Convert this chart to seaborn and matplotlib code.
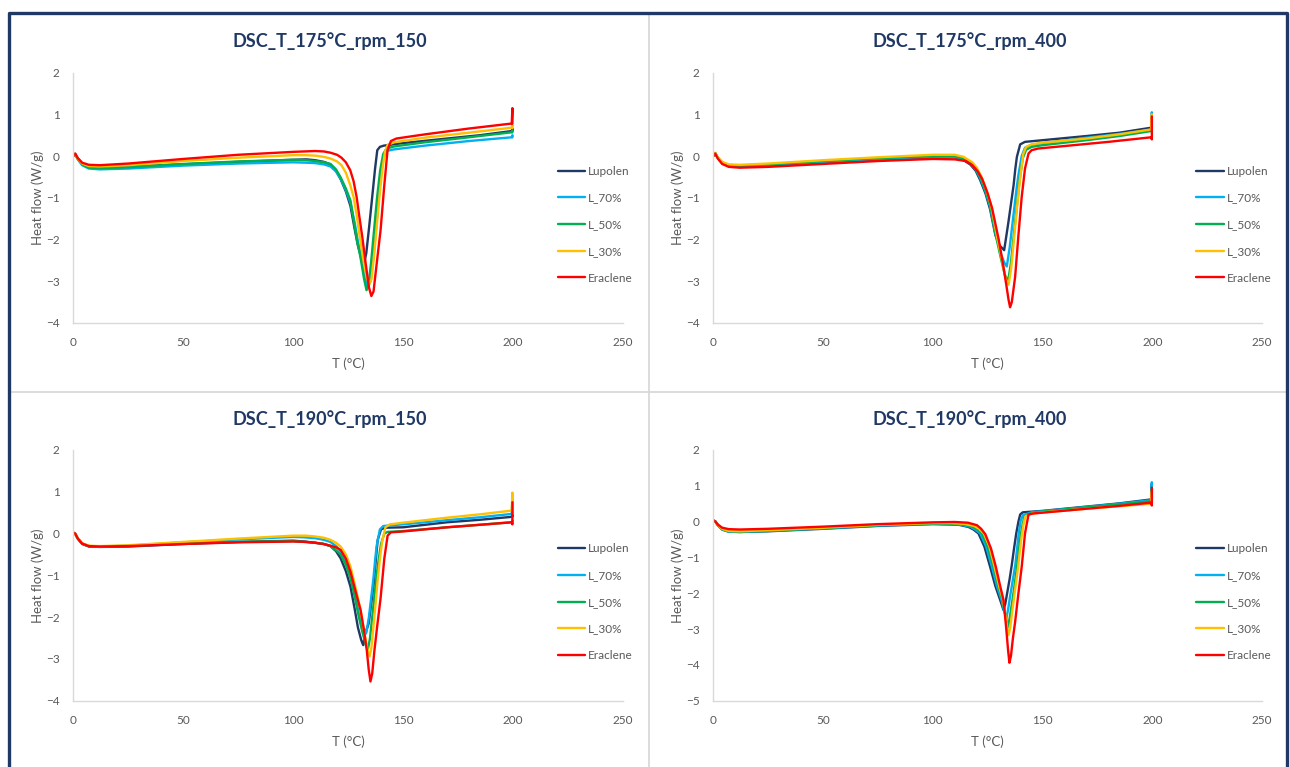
import matplotlib
matplotlib.use("Agg")
import matplotlib.pyplot as plt
import seaborn as sns
import pandas as pd
from matplotlib.lines import Line2D

# ---------------- data ----------------
SERIES = ["Lupolen", "L_70%", "L_50%", "L_30%", "Eraclene"]
COLORS = ["#1F3864", "#00B0F0", "#00B050", "#FFC000", "#FF0000"]
TITLES = ["DSC_T_175°C_rpm_150", "DSC_T_175°C_rpm_400",
          "DSC_T_190°C_rpm_150", "DSC_T_190°C_rpm_400"]
X_TICKS = [0, 50, 100, 150, 200, 250]
Y_TICKS_A = [-4, -3, -2, -1, 0, 1, 2]
Y_TICKS_D = [-5, -4, -3, -2, -1, 0, 1, 2]
X_LABEL = "T (°C)"
Y_LABEL = "Heat flow (W/g)"

# Panel A: DSC_T_175°C_rpm_150
A_LUP_T = [0, 0.8, 2, 4, 7, 12, 25, 50, 75, 100, 106, 110, 114, 117, 119.5, 121.6, 124, 126.1, 128, 129.5, 131, 132.3, 133.3, 134.6, 136, 137.3, 138.3, 139.5, 141.3, 150, 170, 185, 199.5, 199.8, 199.8]
A_LUP_HF = [0.0, 0.05, -0.06, -0.18, -0.26, -0.27, -0.25, -0.2, -0.14, -0.09, -0.08, -0.10, -0.14, -0.20, -0.35, -0.55, -0.85, -1.2, -1.75, -2.15, -2.45, -2.58, -2.33, -1.7, -0.98, -0.3, 0.14, 0.22, 0.25, 0.31, 0.42, 0.5, 0.6, 0.66, 0.6]
A_L70_T = [0, 0.8, 2, 4, 7, 12, 25, 50, 75, 100, 106, 110, 114, 117, 119.5, 121.6, 124, 126.1, 128, 129.5, 131, 132.5, 134, 135.2, 136.5, 137.8, 139.3, 140.8, 142.3, 146, 160, 180, 199.5, 199.8, 199.8]
A_L70_HF = [0.0, 0.04, -0.08, -0.22, -0.3, -0.32, -0.3, -0.23, -0.18, -0.15, -0.16, -0.17, -0.2, -0.25, -0.37, -0.55, -0.82, -1.12, -1.6, -2.05, -2.45, -2.85, -3.15, -3.0, -2.45, -1.7, -0.8, -0.1, 0.12, 0.16, 0.25, 0.36, 0.45, 0.5, 0.45]
A_L50_T = [0, 0.8, 2, 4, 7, 12, 25, 50, 75, 100, 106, 110, 114, 117, 119.5, 121.6, 124, 126.1, 127.6, 129.1, 130.2, 131.1, 132.3, 133.4, 134.3, 135.5, 136.8, 138.2, 139.6, 141, 142.5, 146, 160, 180, 199.5, 199.8, 199.8]
A_L50_HF = [0.0, 0.05, -0.07, -0.2, -0.28, -0.29, -0.27, -0.19, -0.13, -0.09, -0.1, -0.12, -0.15, -0.19, -0.32, -0.51, -0.78, -1.07, -1.55, -2.03, -2.3, -2.57, -2.95, -3.22, -3.1, -2.55, -1.8, -1.0, -0.35, 0.05, 0.18, 0.23, 0.33, 0.45, 0.57, 0.62, 0.57]
A_L30_T = [0, 0.8, 2, 4, 7, 12, 25, 50, 75, 100, 106, 110, 114, 117, 120, 122, 124, 126, 127.6, 129, 130.5, 132.2, 133.5, 134.7, 135.7, 137, 138.3, 139.5, 140.7, 141.8, 143, 146, 160, 180, 199.5, 199.8, 199.8]
A_L30_HF = [0.0, 0.05, -0.06, -0.18, -0.24, -0.25, -0.22, -0.12, -0.04, 0.02, 0.02, 0.01, -0.02, -0.06, -0.13, -0.22, -0.4, -0.7, -1.0, -1.45, -2.0, -2.57, -2.92, -3.08, -2.95, -2.3, -1.55, -0.85, -0.3, 0.1, 0.27, 0.33, 0.44, 0.56, 0.68, 0.75, 0.68]
A_ERA_T = [0, 0.8, 2, 4, 7, 12, 25, 50, 75, 100, 110, 114, 117, 120, 122, 124, 126, 127.5, 128.9, 130, 131.5, 133, 134.5, 135.6, 136.6, 138, 139.8, 141.5, 143, 144.5, 147, 160, 180, 199.5, 199.8, 199.8]
A_ERA_HF = [0.0, 0.06, -0.05, -0.16, -0.21, -0.22, -0.18, -0.07, 0.03, 0.10, 0.12, 0.11, 0.08, 0.03, -0.04, -0.15, -0.34, -0.6, -0.98, -1.4, -1.95, -2.57, -3.15, -3.36, -3.25, -2.6, -1.78, -0.7, 0.15, 0.36, 0.42, 0.52, 0.66, 0.78, 1.15, 0.78]

# Panel B: DSC_T_175°C_rpm_400
B_LUP_T = [0, 0.8, 2, 4, 7, 12, 25, 50, 75, 100, 110, 114, 117, 119.5, 121.6, 124, 126.1, 128.5, 130.5, 132.5, 133.4, 134.4, 135.6, 136.8, 137.6, 138.3, 139.8, 142, 150, 170, 185, 199.5, 199.8, 199.8]
B_LUP_HF = [0.0, 0.07, -0.04, -0.17, -0.24, -0.25, -0.22, -0.15, -0.08, -0.03, -0.03, -0.1, -0.2, -0.35, -0.58, -0.9, -1.28, -1.9, -2.15, -2.26, -1.95, -1.6, -1.15, -0.7, -0.3, -0.02, 0.28, 0.34, 0.38, 0.48, 0.56, 0.68, 0.75, 0.68]
B_L70_T = [0, 0.8, 2, 4, 7, 12, 25, 50, 75, 100, 110, 114, 117, 119.5, 121.6, 124, 126.1, 128.5, 131, 132.5, 133.7, 135, 136, 137, 138, 139, 140.5, 142, 145, 150, 170, 185, 199.5, 199.8, 199.8]
B_L70_HF = [0.0, 0.07, -0.04, -0.16, -0.23, -0.24, -0.21, -0.14, -0.07, -0.02, -0.02, -0.08, -0.17, -0.32, -0.53, -0.85, -1.22, -1.85, -2.35, -2.55, -2.65, -2.2, -1.75, -1.3, -0.85, -0.45, 0.0, 0.2, 0.27, 0.31, 0.44, 0.53, 0.63, 1.05, 0.63]
B_L50_T = [0, 0.8, 2, 4, 7, 12, 25, 50, 75, 100, 110, 114, 117, 119.5, 121.6, 124, 126.1, 129.1, 131, 132.8, 134.3, 135.5, 136.5, 137.5, 138.5, 139.5, 141, 142.5, 145, 150, 170, 185, 199.5, 199.8, 199.8]
B_L50_HF = [0.0, 0.07, -0.04, -0.15, -0.22, -0.23, -0.2, -0.12, -0.05, 0.0, 0.0, -0.06, -0.15, -0.3, -0.5, -0.82, -1.18, -2.0, -2.45, -2.85, -3.0, -2.6, -2.1, -1.6, -1.1, -0.6, -0.05, 0.15, 0.22, 0.26, 0.38, 0.48, 0.6, 0.65, 0.6]
B_L30_T = [0, 0.8, 2, 4, 7, 12, 25, 50, 75, 100, 110, 114, 118, 120, 122, 124.3, 126.5, 129.5, 131.5, 133.2, 134.5, 135.7, 136.7, 137.7, 138.7, 139.7, 141.2, 142.5, 145, 150, 170, 185, 199.5, 199.8, 199.8]
B_L30_HF = [0.0, 0.08, -0.03, -0.14, -0.2, -0.21, -0.18, -0.1, -0.03, 0.03, 0.03, -0.02, -0.15, -0.28, -0.48, -0.8, -1.18, -2.0, -2.5, -2.95, -3.09, -2.7, -2.15, -1.6, -1.05, -0.55, 0.05, 0.22, 0.28, 0.32, 0.42, 0.52, 0.64, 1.0, 0.64]
B_ERA_T = [0, 0.8, 2, 4, 7, 12, 25, 50, 75, 100, 110, 115, 118, 120.5, 122.5, 125, 127, 130, 132, 133.5, 134.5, 135.2, 136, 137.5, 139, 140.5, 142, 143.6, 145, 148, 160, 180, 199.5, 199.8, 199.8]
B_ERA_HF = [0.0, 0.06, -0.06, -0.19, -0.26, -0.28, -0.26, -0.19, -0.12, -0.07, -0.08, -0.12, -0.22, -0.37, -0.55, -0.9, -1.25, -2.0, -2.6, -3.1, -3.45, -3.63, -3.5, -2.9, -1.9, -0.98, -0.3, 0.06, 0.14, 0.18, 0.24, 0.34, 0.45, 0.4, 0.95]

# Panel C: DSC_T_190°C_rpm_150
C_LUP_T = [0, 0.8, 2, 4, 7, 12, 25, 50, 75, 100, 105, 110, 114, 117, 119.5, 121.6, 124, 126.1, 128, 129.5, 131, 131.9, 132.8, 134.4, 135.5, 136.7, 137.6, 138.5, 140, 142, 150, 170, 185, 199.5, 199.8, 199.8]
C_LUP_HF = [0.02, 0.0, -0.12, -0.25, -0.31, -0.32, -0.31, -0.25, -0.2, -0.17, -0.19, -0.22, -0.25, -0.3, -0.42, -0.59, -0.9, -1.27, -1.8, -2.25, -2.55, -2.67, -2.4, -2.15, -1.7, -1.2, -0.65, -0.15, 0.1, 0.14, 0.15, 0.27, 0.33, 0.4, 0.45, 0.4]
C_L70_T = [0, 0.8, 2, 4, 7, 12, 25, 50, 75, 100, 105, 110, 114, 117, 120, 121.6, 124, 126.1, 128, 130, 131.5, 133.3, 134.5, 135.5, 136.5, 137.3, 138, 139.5, 141, 145, 150, 170, 185, 199.5, 199.8, 199.8]
C_L70_HF = [0.02, 0.0, -0.12, -0.24, -0.3, -0.31, -0.29, -0.21, -0.14, -0.08, -0.09, -0.11, -0.15, -0.2, -0.32, -0.43, -0.68, -0.99, -1.4, -1.95, -2.2, -2.38, -2.0, -1.55, -1.1, -0.65, -0.3, 0.1, 0.18, 0.2, 0.22, 0.32, 0.39, 0.47, 0.85, 0.47]
C_L50_T = [0, 0.8, 2, 4, 7, 12, 25, 50, 75, 100, 105, 110, 114, 117, 120, 121.6, 124, 126.1, 128, 129.9, 131.5, 133, 134, 135, 136, 137, 138, 139, 140, 141.5, 143, 150, 170, 185, 199.5, 199.8, 199.8]
C_L50_HF = [0.02, 0.0, -0.12, -0.24, -0.3, -0.31, -0.3, -0.23, -0.2, -0.18, -0.2, -0.22, -0.25, -0.3, -0.42, -0.5, -0.75, -1.07, -1.5, -1.99, -2.35, -2.65, -2.78, -2.5, -2.0, -1.5, -1.0, -0.6, -0.25, 0.0, 0.04, 0.06, 0.15, 0.21, 0.27, 0.32, 0.27]
C_L30_T = [0, 0.8, 2, 4, 7, 12, 25, 50, 75, 100, 106, 110, 114, 117, 119.5, 121.6, 124, 126.1, 128, 130.7, 132.5, 134, 134.8, 135.6, 136.5, 137.5, 138.5, 139.5, 140.5, 142, 144, 150, 170, 185, 199.5, 199.8, 199.8]
C_L30_HF = [0.02, 0.0, -0.11, -0.23, -0.29, -0.3, -0.28, -0.2, -0.12, -0.05, -0.05, -0.07, -0.1, -0.15, -0.22, -0.31, -0.5, -0.79, -1.2, -1.83, -2.4, -2.8, -2.94, -2.75, -2.25, -1.7, -1.1, -0.6, -0.2, 0.15, 0.22, 0.26, 0.38, 0.46, 0.55, 0.98, 0.55]
C_ERA_T = [0, 0.8, 2, 4, 7, 12, 25, 50, 75, 100, 106, 110, 114, 117, 119.5, 121.6, 124, 126.1, 128, 130.7, 132.2, 133.5, 134.4, 135.2, 136, 137, 138.3, 139.8, 141.5, 143, 144.5, 150, 170, 185, 199.5, 199.8, 199.8]
C_ERA_HF = [0.02, 0.0, -0.12, -0.24, -0.3, -0.31, -0.3, -0.25, -0.21, -0.19, -0.2, -0.22, -0.25, -0.29, -0.33, -0.39, -0.6, -0.91, -1.3, -1.83, -2.3, -2.78, -3.25, -3.54, -3.35, -2.8, -2.2, -1.55, -0.6, -0.05, 0.03, 0.05, 0.15, 0.21, 0.27, 0.22, 0.75]

# Panel D: DSC_T_190°C_rpm_400
D_LUP_T = [0, 0.8, 2, 4, 7, 12, 25, 50, 75, 100, 108, 112, 116.3, 118.5, 120.8, 123.5, 126.1, 128.5, 130.7, 132.2, 133, 134, 135, 136, 137, 138, 139, 139.8, 141, 150, 170, 185, 199.5, 199.8, 199.8]
D_LUP_HF = [0.03, 0.01, -0.1, -0.22, -0.28, -0.29, -0.27, -0.2, -0.12, -0.07, -0.08, -0.09, -0.15, -0.22, -0.33, -0.7, -1.26, -1.8, -2.19, -2.47, -2.3, -1.95, -1.6, -1.2, -0.75, -0.33, 0.0, 0.2, 0.26, 0.3, 0.42, 0.51, 0.62, 1.05, 0.62]
D_L70_T = [0, 0.8, 2, 4, 7, 12, 25, 50, 75, 100, 108, 112, 117, 119.3, 121.6, 124.3, 126.9, 129.2, 131.3, 132.5, 133.5, 134.3, 135.3, 136.4, 137.6, 138.4, 139.1, 140, 141, 145, 150, 170, 185, 199.5, 199.8, 199.8]
D_L70_HF = [0.03, 0.01, -0.1, -0.22, -0.28, -0.29, -0.26, -0.19, -0.11, -0.06, -0.07, -0.08, -0.14, -0.22, -0.33, -0.7, -1.26, -1.8, -2.19, -2.5, -2.7, -2.45, -2.05, -1.65, -1.2, -0.75, -0.35, 0.02, 0.18, 0.26, 0.29, 0.41, 0.5, 0.6, 1.1, 0.6]
D_L50_T = [0, 0.8, 2, 4, 7, 12, 25, 50, 75, 100, 108, 113, 117.8, 120, 122.4, 125, 127.7, 129.8, 131.8, 133.2, 134.2, 135, 136, 137.2, 138.3, 139.2, 140, 141, 141.8, 145, 150, 170, 185, 199.5, 199.8, 199.8]
D_L50_HF = [0.03, 0.01, -0.1, -0.21, -0.27, -0.28, -0.26, -0.18, -0.1, -0.05, -0.06, -0.07, -0.13, -0.2, -0.33, -0.7, -1.26, -1.8, -2.19, -2.65, -2.94, -2.7, -2.3, -1.8, -1.3, -0.8, -0.4, -0.05, 0.15, 0.24, 0.28, 0.4, 0.48, 0.57, 0.9, 0.57]
D_L30_T = [0, 0.8, 2, 4, 7, 12, 25, 50, 75, 100, 108, 114, 118.8, 121, 123.2, 125.8, 128.1, 130.2, 132, 133.5, 134.5, 135.3, 136.3, 137.6, 138.8, 139.7, 140.5, 141.4, 142.2, 145, 150, 170, 185, 199.5, 199.8, 199.8]
D_L30_HF = [0.03, 0.01, -0.09, -0.2, -0.26, -0.27, -0.24, -0.17, -0.09, -0.04, -0.04, -0.06, -0.12, -0.2, -0.33, -0.7, -1.26, -1.8, -2.19, -2.8, -3.17, -2.95, -2.45, -1.85, -1.3, -0.8, -0.4, -0.05, 0.15, 0.22, 0.26, 0.36, 0.43, 0.5, 0.85, 0.5]
D_ERA_T = [0, 0.8, 2, 4, 7, 12, 25, 50, 75, 100, 110, 116, 120.1, 122, 123.9, 126.5, 128.7, 130.5, 132.2, 133.4, 134.3, 134.9, 135.6, 136.5, 137.5, 139, 140.5, 142, 143.6, 146, 150, 170, 185, 199.5, 199.8, 199.8]
D_ERA_HF = [0.03, 0.01, -0.08, -0.17, -0.21, -0.22, -0.2, -0.14, -0.07, -0.02, -0.01, -0.03, -0.1, -0.2, -0.35, -0.75, -1.26, -1.75, -2.19, -2.95, -3.6, -3.94, -3.75, -3.25, -2.8, -2.0, -1.26, -0.33, 0.2, 0.23, 0.25, 0.36, 0.44, 0.53, 0.45, 0.95]


def frame(curves):
    parts = []
    for name, t, hf in curves:
        if len(t) != len(hf):
            raise ValueError(f"{name}: {len(t)} T vs {len(hf)} HF")
        parts.append(pd.DataFrame({"T": t, "HF": hf, "series": name}))
    return pd.concat(parts, ignore_index=True)


DATA = [
    frame(zip(SERIES, [A_LUP_T, A_L70_T, A_L50_T, A_L30_T, A_ERA_T],
              [A_LUP_HF, A_L70_HF, A_L50_HF, A_L30_HF, A_ERA_HF])),
    frame(zip(SERIES, [B_LUP_T, B_L70_T, B_L50_T, B_L30_T, B_ERA_T],
              [B_LUP_HF, B_L70_HF, B_L50_HF, B_L30_HF, B_ERA_HF])),
    frame(zip(SERIES, [C_LUP_T, C_L70_T, C_L50_T, C_L30_T, C_ERA_T],
              [C_LUP_HF, C_L70_HF, C_L50_HF, C_L30_HF, C_ERA_HF])),
    frame(zip(SERIES, [D_LUP_T, D_L70_T, D_L50_T, D_L30_T, D_ERA_T],
              [D_LUP_HF, D_L70_HF, D_L50_HF, D_L30_HF, D_ERA_HF])),
]
YTICKS = [Y_TICKS_A, Y_TICKS_A, Y_TICKS_A, Y_TICKS_D]

# ---------------- layout (pixels of a 1290x767 canvas) ----------------
W, H = 1290, 767
sns.set_theme(style="white")
plt.rcParams["font.family"] = ["Lato", "DejaVu Sans"]

fig = plt.figure(figsize=(W / 100, H / 100), dpi=100)
fig.patch.set_facecolor("white")

GRAY = "#595959"
AXC = "#D9D9D9"
NAVY = "#1F3864"

# panel geometry: (x0 px, x250 px, ytop px, ybottom px, title x, title y, legend line x, legend first row y)
GEOM = [
    (73.4, 622.7, 72.7, 322.7, 329.6, 41.0, 557.6, 170.7),
    (713.4, 1262.0, 72.7, 322.7, 969.6, 41.0, 1196.4, 170.7),
    (73.4, 622.7, 450.0, 700.7, 329.6, 419.0, 557.6, 548.3),
    (713.4, 1262.0, 450.0, 700.7, 969.6, 419.0, 1196.4, 548.3),
]

for i, (df, yt, g) in enumerate(zip(DATA, YTICKS, GEOM)):
    x0, x1, yt_px, yb_px, cx, ty, lx, ly = g
    ax = fig.add_axes([x0 / W, 1 - yb_px / H, (x1 - x0) / W, (yb_px - yt_px) / H])
    ax.set_facecolor("none")
    sns.lineplot(data=df, x="T", y="HF", hue="series", hue_order=SERIES,
                 palette=COLORS, sort=False, estimator=None, linewidth=1.7,
                 legend=False, ax=ax)
    ax.set_xlim(0, 250)
    ax.set_ylim(min(yt), max(yt))
    ax.set_xticks(X_TICKS)
    ax.set_yticks(yt)
    ax.set_xlabel("")
    ax.set_ylabel("")
    for s in ["top", "right"]:
        ax.spines[s].set_visible(False)
    for s in ["left", "bottom"]:
        ax.spines[s].set_color(AXC)
        ax.spines[s].set_linewidth(1.0)
    ax.tick_params(axis="both", direction="out", length=4, width=1.0,
                   color=AXC, labelcolor=GRAY, labelsize=8.5)
    ax.tick_params(axis="x", pad=6)
    ax.tick_params(axis="y", pad=6)

    fig.text(cx / W, 1 - ty / H, TITLES[i], ha="center", va="center",
             fontsize=13, fontweight="bold", color=NAVY)
    fig.text((x0 + x1) / 2 / W, 1 - (yb_px + 41.5) / H, X_LABEL,
             ha="center", va="center", fontsize=9.5, color=GRAY)
    fig.text((x0 - 35.5) / W, 1 - (yt_px + yb_px) / 2 / H, Y_LABEL,
             ha="center", va="center", rotation=90, fontsize=9.5, color=GRAY)

    handles = [Line2D([0], [0], color=c, lw=1.7) for c in COLORS]
    ax.legend(handles, SERIES, loc="upper left",
              bbox_to_anchor=(lx / W, 1 - (ly - 5.0) / H),
              bbox_transform=fig.transFigure, frameon=False,
              borderpad=0, borderaxespad=0, fontsize=8.5,
              handlelength=2.35, handletextpad=0.25, labelspacing=1.33,
              labelcolor=GRAY)

# panel dividers
fig.add_artist(Line2D([10 / W, 1286 / W], [1 - 392 / H, 1 - 392 / H],
                      transform=fig.transFigure, color="#D9D9D9", lw=1.3))
fig.add_artist(Line2D([649 / W, 649 / W], [1 - 14 / H, 0],
                      transform=fig.transFigure, color="#D9D9D9", lw=1.3))
# outer navy frame (left, top, right)
fig.add_artist(Line2D([8.5 / W, 8.5 / W, 1287 / W, 1287 / W],
                      [-0.01, 1 - 13 / H, 1 - 13 / H, -0.01],
                      transform=fig.transFigure, color=NAVY, lw=2.4))

fig.savefig("out.png", dpi=100, facecolor="white")
